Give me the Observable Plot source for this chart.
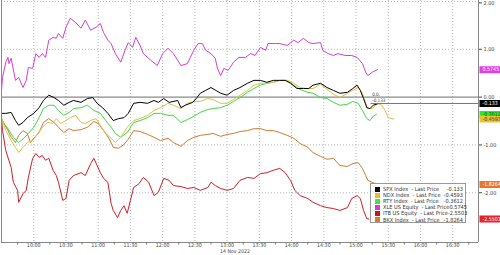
<!DOCTYPE html>
<html><head><meta charset="utf-8">
<script src="https://cdn.jsdelivr.net/npm/d3@7"></script>
<script src="https://cdn.jsdelivr.net/npm/@observablehq/plot@0.6"></script>
<style>
html,body{margin:0;padding:0;background:#fff;}
#wrap{position:relative;width:500px;height:255px;overflow:hidden;font-family:"Liberation Sans Narrow","DejaVu Sans Condensed","Liberation Sans",Arial,sans-serif;}
#legend{position:absolute;left:370px;top:183px;width:96px;height:40px;background:#fff;border:1px solid #999;box-sizing:border-box;font-size:5.6px;color:#333;padding-top:2px;}
.row{display:flex;align-items:center;height:6.1px;line-height:6px;}
.sw{width:5px;height:5px;margin-left:4px;margin-right:3px;flex:none;}
.nm{flex:1;white-space:pre;}
.vl{margin-right:2px;text-align:right;}
</style></head><body><div id="wrap"></div>
<script>
// minutes since 09:30 on 14 Nov 2022, % change
const spx = [[0,-0.34],[4,-0.34],[9,-0.32],[13,-0.49],[16,-0.59],[20,-0.53],[24,-0.43],[30,-0.34],[35,-0.22],[39,-0.07],[44,0.04],[49,-0.01],[53,-0.07],[58,-0.17],[63,-0.11],[67,-0.07],[74,-0.11],[80,-0.03],[85,-0.01],[89,-0.13],[94,-0.22],[99,-0.34],[104,-0.49],[109,-0.45],[114,-0.43],[118,-0.34],[123,-0.13],[129,-0.11],[136,-0.13],[142,-0.07],[146,-0.11],[151,-0.03],[156,-0.11],[164,-0.07],[167,-0.22],[171,-0.17],[178,-0.11],[182,-0.01],[185,0.08],[190,0.14],[195,0.20],[204,0.08],[210,0.04],[216,0.14],[222,0.20],[229,0.29],[235,0.35],[241,0.35],[247,0.31],[253,0.35],[259,0.35],[264,0.35],[269,0.29],[275,0.18],[281,0.18],[286,0.18],[290,0.25],[297,0.29],[303,0.20],[309,0.14],[315,0.08],[322,0.10],[327,0.18],[331,0.25],[334,0.14],[337,-0.03],[340,-0.22],[343,-0.24],[346,-0.17],[351,-0.133]];
const ndx = [[0,-0.43],[4,-0.70],[9,-0.91],[13,-1.05],[16,-1.16],[20,-1.05],[24,-0.95],[29,-0.91],[34,-0.76],[38,-0.63],[43,-0.53],[48,-0.55],[51,-0.45],[55,-0.55],[60,-0.49],[64,-0.43],[69,-0.38],[74,-0.53],[78,-0.55],[83,-0.49],[88,-0.45],[92,-0.59],[97,-0.76],[102,-0.86],[106,-0.95],[111,-0.84],[117,-0.63],[123,-0.49],[129,-0.45],[136,-0.38],[142,-0.28],[148,-0.22],[155,-0.13],[160,-0.17],[167,-0.24],[173,-0.13],[179,-0.09],[185,-0.09],[192,-0.03],[197,-0.05],[204,-0.13],[210,-0.13],[216,-0.05],[222,0.04],[229,0.14],[235,0.25],[241,0.29],[247,0.29],[253,0.31],[259,0.35],[266,0.35],[272,0.29],[278,0.20],[285,0.18],[290,0.18],[297,0.27],[303,0.16],[309,0.06],[315,-0.01],[322,0.08],[327,0.14],[332,0.20],[336,0.08],[339,-0.13],[341,-0.24],[345,-0.24],[350,-0.13],[354,-0.17],[357,-0.28],[360,-0.43],[365,-0.4593]];
const rty = [[0,-0.49],[6,-0.66],[11,-0.84],[16,-0.95],[21,-0.86],[25,-0.76],[30,-0.63],[35,-0.43],[39,-0.24],[44,-0.17],[49,-0.17],[53,-0.28],[58,-0.38],[63,-0.32],[67,-0.24],[74,-0.22],[80,-0.17],[86,-0.28],[92,-0.34],[97,-0.49],[102,-0.63],[106,-0.76],[111,-0.84],[117,-0.74],[123,-0.53],[129,-0.49],[136,-0.43],[142,-0.34],[148,-0.34],[155,-0.38],[160,-0.38],[167,-0.53],[173,-0.47],[179,-0.40],[185,-0.32],[192,-0.26],[197,-0.24],[204,-0.22],[210,-0.17],[216,-0.09],[222,-0.01],[229,0.10],[235,0.18],[241,0.25],[247,0.29],[253,0.31],[259,0.35],[266,0.35],[272,0.25],[278,0.16],[285,0.10],[290,0.08],[297,-0.01],[303,-0.03],[309,-0.11],[315,-0.17],[322,-0.15],[327,-0.09],[332,-0.13],[336,-0.28],[340,-0.45],[343,-0.49],[346,-0.40],[349,-0.3612]];
const xle = [[0,0.14],[1,0.41],[4,0.73],[6,0.83],[7,0.70],[9,0.81],[13,0.35],[16,0.41],[20,0.20],[23,0.35],[25,0.62],[29,0.60],[32,0.91],[35,0.83],[38,0.91],[41,0.83],[44,1.19],[48,1.25],[51,1.23],[53,1.33],[57,1.23],[60,1.46],[64,1.65],[69,1.56],[74,1.44],[78,1.61],[83,1.40],[88,1.46],[92,1.54],[95,1.35],[99,1.19],[102,1.12],[106,0.91],[111,0.73],[115,0.98],[118,1.14],[122,1.04],[125,1.25],[129,1.08],[132,0.91],[139,0.77],[145,0.66],[150,0.91],[155,1.02],[160,0.91],[167,0.66],[173,0.70],[179,0.98],[183,1.12],[187,1.12],[190,0.98],[195,0.91],[199,0.81],[201,0.60],[204,0.45],[207,0.60],[211,0.56],[216,0.73],[221,0.83],[227,0.83],[232,0.91],[236,0.87],[241,1.04],[246,0.98],[248,1.12],[255,1.12],[259,1.12],[266,1.08],[272,1.19],[276,1.14],[281,1.23],[286,1.14],[290,1.12],[297,1.14],[299,0.98],[304,0.91],[309,0.87],[313,0.91],[320,0.87],[326,0.87],[331,0.83],[336,0.70],[339,0.52],[341,0.45],[345,0.52],[350,0.5745]];
const itb = [[0,-0.45],[1,-0.70],[4,-1.12],[9,-1.47],[11,-1.78],[15,-1.95],[16,-2.20],[20,-2.02],[23,-1.95],[25,-1.68],[29,-1.28],[32,-1.18],[35,-1.26],[38,-1.22],[41,-1.32],[44,-1.28],[48,-1.53],[51,-1.64],[53,-1.78],[57,-2.16],[60,-2.12],[63,-1.74],[67,-1.64],[74,-1.58],[78,-1.64],[83,-1.39],[86,-1.28],[89,-1.43],[92,-1.58],[95,-1.70],[99,-1.78],[102,-2.22],[104,-2.37],[108,-2.52],[111,-2.37],[114,-2.27],[117,-2.43],[120,-2.16],[123,-1.89],[128,-1.81],[132,-1.68],[137,-1.78],[142,-2.06],[146,-1.99],[151,-1.70],[156,-1.74],[160,-1.85],[167,-1.87],[173,-1.91],[179,-1.89],[185,-1.95],[192,-1.89],[195,-1.78],[199,-1.85],[204,-1.91],[210,-1.95],[216,-1.91],[222,-1.74],[229,-1.68],[235,-1.70],[241,-1.60],[247,-1.58],[253,-1.53],[259,-1.49],[264,-1.58],[269,-1.74],[273,-1.95],[278,-2.06],[285,-2.12],[290,-2.20],[297,-2.27],[303,-2.31],[309,-2.33],[315,-2.37],[322,-2.31],[326,-2.12],[331,-2.06],[334,-2.12],[337,-2.37],[340,-2.54],[342,-2.5503]];
const bkx = [[0,-0.45],[2,-0.53],[6,-0.70],[9,-0.84],[13,-0.95],[16,-0.80],[20,-0.70],[24,-0.76],[27,-0.95],[30,-0.86],[35,-0.74],[39,-0.53],[44,-0.45],[49,-0.53],[53,-0.63],[58,-0.74],[63,-0.66],[67,-0.70],[74,-0.68],[80,-0.63],[86,-0.51],[90,-0.55],[95,-0.70],[100,-0.86],[104,-1.05],[109,-1.07],[114,-0.99],[118,-0.88],[123,-0.70],[129,-0.72],[136,-0.78],[142,-0.84],[148,-0.91],[155,-0.86],[160,-0.95],[167,-1.03],[173,-0.91],[179,-0.84],[185,-0.80],[192,-0.78],[197,-0.76],[204,-0.82],[210,-0.78],[216,-0.76],[222,-0.72],[229,-0.70],[235,-0.66],[241,-0.66],[247,-0.70],[253,-0.70],[259,-0.74],[266,-0.80],[272,-0.86],[278,-0.97],[285,-1.05],[290,-1.16],[297,-1.24],[303,-1.30],[309,-1.28],[315,-1.43],[322,-1.45],[327,-1.39],[332,-1.37],[336,-1.49],[339,-1.64],[341,-1.74],[347,-1.80],[352,-1.82],[357,-1.8264]];

const names = ["SPX Index  - Last Price","NDX Index  - Last Price","RTY Index  - Last Price","XLE US Equity  - Last Price","ITB US Equity  - Last Price","BKX Index  - Last Price"];
const lastLabels = ["-0.133","-0.4593","-0.3612","0.5745","-2.5503","-1.8264"];
const lineColors = ["#000000","#dcc048","#44d644","#d040d0","#cc2026","#d07a30"];
const swatchColors = ["#000000","#e6c02c","#3ee63e","#d838d8","#c8161e","#e0782a"];
const boxColors = ["#000000","#e8c632","#2ee82e","#e040e0","#e8202a","#e8762a"];
const boxText = ["#ffffff","#333333","#1a5a1a","#ffffff","#ffffff","#ffffff"];
const yTicks = [2, 1, 0, -1, -2];
const dateLabel = "14 Nov 2022";
const sessionStart = [2022, 10, 14, 9, 30];
const domainMinutes = [0, 444];
const yDomain = [-3.04, 2.02];

const t = m => new Date(sessionStart[0], sessionStart[1], sessionStart[2], sessionStart[3], sessionStart[4] + m);
const seriesData = [spx, ndx, rty, xle, itb, bkx];
const series = seriesData.map((d, i) => ({
  i, name: names[i], color: lineColors[i],
  rows: d.map(([m, v]) => ({time: t(m), value: v}))
}));
const xEnd = t(domainMinutes[1]);
const ticks30 = d3.range(30, 421, 30).map(t);
const ticks15 = d3.range(15, 440, 30).map(t);
const drawOrder = [5, 4, 3, 2, 1, 0];
const boxOrder = [3, 0, 2, 1, 5, 4];
const boxes = boxOrder.map(i => ({
  value: +lastLabels[i], label: lastLabels[i], color: boxColors[i], tc: boxText[i],
  x1: xEnd, x2: t(domainMinutes[1] + 30)
}));
const spxLast = spx[spx.length - 1];

const fontFamily = '"Liberation Sans Narrow","DejaVu Sans Condensed","Liberation Sans",Arial,sans-serif';
const axisStyle = {anchor: "right", tickSize: 3, tickPadding: 2, tickFormat: d => d.toFixed(2), fontSize: 5.5, color: "#444", label: null};
const plot = Plot.plot({
  width: 500, height: 255,
  marginLeft: 1, marginRight: 22, marginTop: 0, marginBottom: 13,
  style: {fontFamily, background: "transparent"},
  x: {type: "time", domain: [t(domainMinutes[0]), xEnd]},
  y: {domain: yDomain},
  marks: [
    Plot.gridX(ticks30, {stroke: "#b4b4b4", strokeOpacity: 1, strokeDasharray: "1,2"}),
    Plot.gridY(yTicks.filter(d => d !== 0), {stroke: "#b4b4b4", strokeOpacity: 1, strokeDasharray: "1,2"}),
    Plot.ruleY([0], {stroke: "#8a8a8a", strokeWidth: 1.3}),
    ...drawOrder.map(i => Plot.line(series[i].rows, {x: "time", y: "value", stroke: series[i].color, strokeWidth: 1})),
    Plot.ruleY([{y: spxLast[1], x1: t(spxLast[0] - 7), x2: xEnd}], {y: "y", x1: "x1", x2: "x2", stroke: "#777", strokeWidth: 1}),
    Plot.text([{x: t(spxLast[0] - 6), y: 0, s: "0.0."}, {x: t(spxLast[0] - 6), y: spxLast[1], s: lastLabels[0]}],
      {x: "x", y: "y", text: "s", dy: -2.6, textAnchor: "start", fontSize: 4.6, fill: "#444"}),
    Plot.ruleX([t(domainMinutes[0]), xEnd], {stroke: "#888"}),
    Plot.ruleY([yDomain[0]], {stroke: "#888"}),
    Plot.axisX(ticks15, {tickSize: 2.5, tickFormat: () => "", stroke: "#777", label: null}),
    Plot.axisX(ticks30, {tickSize: 0, tickPadding: 1, tickFormat: d3.timeFormat("%H:%M"), fontSize: 5.3, color: "#444", label: null}),
    Plot.text([{x: t(210), s: dateLabel}], {x: "x", text: "s", frameAnchor: "bottom", dy: 10.2, dx: -7, textAnchor: "start", fontSize: 5.2, fill: "#444"}),
    Plot.axisY(yTicks.slice(1), axisStyle),
    Plot.axisY(yTicks.slice(0, 1), {...axisStyle, dy: 1.4}),
    Plot.ruleY(boxes, {y: "value", x1: "x1", x2: "x2", stroke: "color", strokeWidth: 7, dx: 1.5}),
    Plot.text(boxes, {x: "x1", y: "value", text: "label", fill: "tc", dx: 4, textAnchor: "start", fontSize: 5.3})
  ]
});
const wrap = document.getElementById("wrap");
wrap.appendChild(plot);

const legend = document.createElement("div");
legend.id = "legend";
legend.innerHTML = names.map((n, i) =>
  `<div class="row"><span class="sw" style="background:${swatchColors[i]}"></span><span class="nm">${n}</span><span class="vl">${lastLabels[i]}</span></div>`).join("");
wrap.appendChild(legend);
</script></body></html>
